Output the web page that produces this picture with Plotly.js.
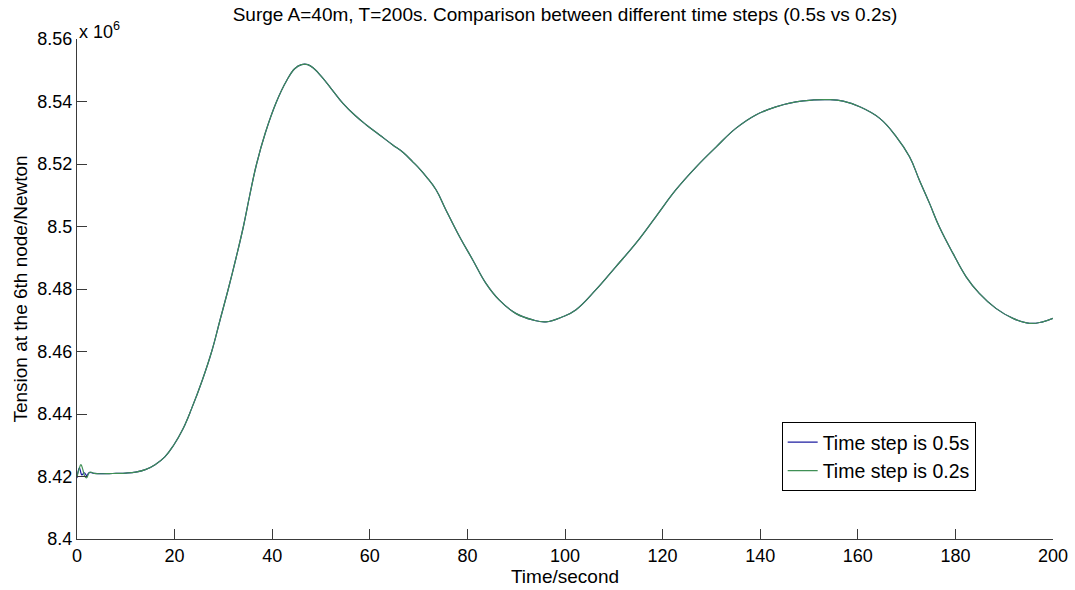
<!DOCTYPE html>
<html>
<head>
<meta charset="utf-8">
<script src="https://cdn.plot.ly/plotly-3.0.1.min.js"></script>
<style>html,body{margin:0;padding:0;background:#fff;}#chart{width:1075px;height:590px;}</style>
</head>
<body>
<div id="chart"></div>
<script>
// Start-up transient of each run (time in s, tension in 10^6 N)
var timeStart05 = [0, 0.5, 1.0, 1.5, 2.0, 2.5];
var tensionStart05 = [8.4195, 8.4228, 8.4205, 8.4212, 8.4203, 8.4213];
var timeStart02 = [0, 0.4, 0.8, 1.2, 1.6, 2.0, 2.4, 2.8];
var tensionStart02 = [8.4200, 8.4222, 8.4238, 8.4222, 8.4200, 8.4196, 8.4210, 8.4214];

// Remaining response (both time steps coincide visually)
var timeMain = [3.5, 6, 8, 10, 12, 14, 16, 18, 19.8, 21.7, 23.5, 25.6, 27.6, 29.3, 31.0, 32.6, 34.1, 35.4, 36.8, 38.6, 40.9, 43.0, 44.6, 46.0, 47.3, 48.6, 50.2, 52.0, 54.5, 57.0, 59.3, 62.0, 64.7, 66.9, 68.8, 70.3, 71.6, 73.6, 75.6, 78.4, 81.1, 83.8, 86.5, 89.9, 93.4, 96.1, 99.5, 102.2, 106.3, 110.4, 114.5, 118.6, 122.7, 126.9, 131, 135, 139.1, 143.2, 147.3, 151.0, 154.0, 157.0, 160.4, 164.5, 167.9, 170.6, 172.6, 174.7, 176.7, 179.5, 182.2, 184.9, 188.3, 191.8, 195.2, 197.9, 200];
var tensionMain = [8.4210, 8.4209, 8.4210, 8.4211, 8.4214, 8.4222, 8.4238, 8.4263, 8.4300, 8.4352, 8.4418, 8.4505, 8.4600, 8.4700, 8.4800, 8.4900, 8.5000, 8.5100, 8.5200, 8.5300, 8.5400, 8.5468, 8.5505, 8.5518, 8.5518, 8.5505, 8.5478, 8.5443, 8.5394, 8.5355, 8.5325, 8.5293, 8.5261, 8.5236, 8.5207, 8.5183, 8.5159, 8.5117, 8.5053, 8.4967, 8.4893, 8.4818, 8.4765, 8.4722, 8.4701, 8.4695, 8.4711, 8.4733, 8.4797, 8.4871, 8.4946, 8.5031, 8.5117, 8.5191, 8.5255, 8.5314, 8.5357, 8.5383, 8.5399, 8.5405, 8.5406, 8.5401, 8.5383, 8.5346, 8.5287, 8.5223, 8.5149, 8.5074, 8.4999, 8.4914, 8.4839, 8.4786, 8.4738, 8.4706, 8.4690, 8.4695, 8.4706];

var seriesNames = ["Time step is 0.5s", "Time step is 0.2s"];
var xTickVals = [0, 20, 40, 60, 80, 100, 120, 140, 160, 180, 200];
var yTickVals = [8.4, 8.42, 8.44, 8.46, 8.48, 8.5, 8.52, 8.54, 8.56];
var yTickText = ["8.4", "8.42", "8.44", "8.46", "8.48", "8.5", "8.52", "8.54", "8.56"];

var FONT = "Liberation Sans, Arial, sans-serif";

var trace05 = {
  x: timeStart05.concat(timeMain),
  y: tensionStart05.concat(tensionMain),
  mode: "lines", type: "scatter", name: seriesNames[0],
  line: {color: "#1c1ca0", width: 1.2, shape: "spline", smoothing: 1.2}
};
var trace02 = {
  x: timeStart02.concat(timeMain),
  y: tensionStart02.concat(tensionMain),
  mode: "lines", type: "scatter", name: seriesNames[1],
  line: {color: "#3f8f55", width: 1.2, shape: "spline", smoothing: 1.2}
};

var axisCommon = {
  showline: true, linecolor: "#3a3a3a", linewidth: 1,
  ticks: "inside", ticklen: 10, tickwidth: 1, tickcolor: "#3a3a3a",
  showgrid: false, zeroline: false, mirror: false,
  tickfont: {family: FONT, size: 18, color: "#000"}
};

var layout = {
  width: 1075, height: 590, autosize: false,
  paper_bgcolor: "#fff", plot_bgcolor: "#fff",
  margin: {l: 77, r: 22, t: 39, b: 51, pad: 0},
  showlegend: true,
  title: {
    text: "Surge A=40m, T=200s. Comparison between different time steps (0.5s vs 0.2s)",
    font: {family: FONT, size: 19, color: "#000"},
    xref: "paper", x: 0.5, xanchor: "center",
    yref: "container", y: 0.975, yanchor: "middle"
  },
  xaxis: Object.assign({}, axisCommon, {
    range: [0, 200], tickvals: xTickVals,
    title: {text: "Time/second", font: {family: FONT, size: 19, color: "#000"}, standoff: 2}
  }),
  yaxis: Object.assign({}, axisCommon, {
    range: [8.4, 8.56], tickvals: yTickVals, ticktext: yTickText,
    title: {text: "Tension at the 6th node/Newton", font: {family: FONT, size: 19, color: "#000"}, standoff: 4}
  }),
  legend: {
    x: 0.722, y: 0.234, xanchor: "left", yanchor: "top",
    bgcolor: "#fff", bordercolor: "#000", borderwidth: 1,
    font: {family: FONT, size: 19.5, color: "#000"}
  },
  annotations: [{
    text: "x 10<sup>6</sup>", xref: "paper", yref: "paper",
    x: 0, y: 1, xanchor: "left", yanchor: "bottom", showarrow: false,
    font: {family: FONT, size: 18, color: "#000"}, yshift: -5
  }]
};

Plotly.newPlot("chart", [trace05, trace02], layout, {displayModeBar: false, staticPlot: true});
</script>
</body>
</html>
